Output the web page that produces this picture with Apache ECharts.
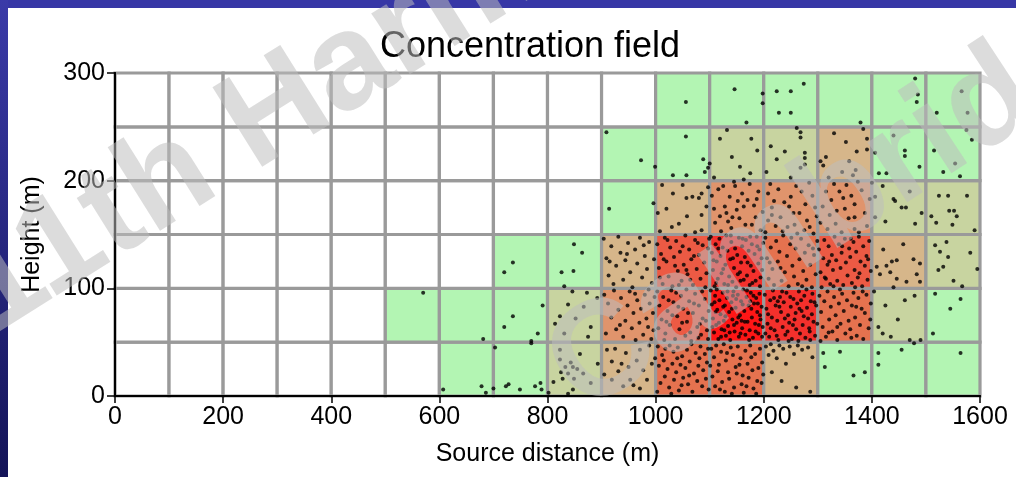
<!DOCTYPE html>
<html><head><meta charset="utf-8">
<script src="https://cdn.jsdelivr.net/npm/echarts@6/dist/echarts.min.js"></script>
<style>html,body{margin:0;padding:0;background:#fff}#c{width:1016px;height:477px}</style>
</head><body><div id="c"></div>
<script>
const titleText = 'Concentration field';
const xName = 'Source distance (m)';
const yName = 'Height (m)';
const watermarkLines = ['11th Harmo', 'Cambridge'];
const xCellStarts = [0,100,200,300,400,500,600,700,800,900,1000,1100,1200,1300,1400,1500];
const yCellStarts = [0,50,100,150,200,250];
// concentration class per cell, bottom row first (0 = empty)
const row0 = [0,0,0,0,0,0,1,1,2,3,5,5,3,1,1,1];
const row1 = [0,0,0,0,0,1,1,1,2,4,6,8,7,5,2,1];
const row2 = [0,0,0,0,0,0,0,1,1,3,6,7,5,6,3,2];
const row3 = [0,0,0,0,0,0,0,0,0,1,3,4,4,4,2,2];
const row4 = [0,0,0,0,0,0,0,0,0,1,1,2,2,3,1,1];
const row5 = [0,0,0,0,0,0,0,0,0,0,1,1,1,1,1,1];
const levelColors = ['#ffffff','#b3f5b3','#c8d4a0','#d6b68a','#e0946c','#e5724f','#ec5a44','#f4302c','#ff1616'];
// particle positions [distance m, height m]
const dots = [
[607,6],[686,3],[678,9],
[700,7],[703,45],[723,9],[728,11],[749,6],[770,49],[777,9],[787,12],[789,6],
[802,3],[811,13],[823,43],[823,34],[825,22],[828,16],[833,27],[838,21],[843,31],[847,27],[849,16],[855,25],[860,39],[866,21],[847,6],[838,2],[880,12],[893,30],
[910,43],[919,32],[937,30],[931,23],[953,15],[950,27],[965,33],[971,43],[977,24],[984,15],[993,30],[999,35],[959,10],[940,9],[919,15],[971,7],[905,20],[925,44],[945,40],[988,47],
[1004,46],[1012,38],[1018,44],[1026,47],[1033,41],[1041,45],[1049,37],[1058,43],[1066,48],[1074,40],[1083,46],[1091,39],[1097,44],
[1006,28],[1015,33],[1022,25],[1031,30],[1038,22],[1046,29],[1055,26],[1063,32],[1071,21],[1079,28],[1088,24],[1095,31],
[1009,12],[1017,18],[1025,8],[1034,15],[1043,5],[1051,17],[1060,11],[1068,4],[1077,14],[1086,9],[1093,16],
[1003,4],[1029,2],[1040,35],[1062,19],[1081,35],[1098,6],[1048,10],
[1103,44],[1108,36],[1112,47],[1117,29],[1121,41],[1126,48],[1130,33],[1134,22],[1139,45],[1143,38],[1148,27],[1152,46],[1157,35],[1161,19],[1166,42],[1170,30],[1175,47],[1179,24],[1184,39],[1188,14],[1193,44],[1197,31],
[1105,18],[1110,9],[1115,23],[1123,13],[1128,4],[1136,16],[1145,8],[1150,21],[1159,11],[1163,3],[1172,17],[1181,7],[1190,26],[1196,12],
[1101,28],[1119,6],[1132,40],[1141,2],[1155,29],[1168,9],[1177,36],[1186,2],[1199,20],
[1204,46],[1209,38],[1213,48],[1218,42],[1224,35],[1229,47],[1236,44],[1241,30],[1248,46],[1256,39],[1263,47],[1271,43],[1282,45],[1290,36],[1215,22],[1233,14],[1260,8],[1286,4],
[1310,40],[1313,27],[1341,41],[1366,19],[1387,22],
[1412,40],[1412,29],[1455,43],[1478,49],[1564,40],
[570,96],[681,53],
[720,64],[736,74],[791,84],[770,51],[782,58],
[814,67],[823,74],[838,85],[852,72],[867,83],[873,96],[880,64],[875,55],[831,58],[892,91],[846,97],
[905,94],[912,86],[918,73],[923,98],[927,62],[931,80],[936,91],[940,55],[944,70],[948,84],[952,97],[956,63],[959,77],[963,52],[966,89],[970,68],[973,81],[977,57],[980,94],[983,72],[986,64],[989,86],[992,53],[995,77],[998,92],[908,58],[934,66],[962,95],[987,99],[996,61],
[1003,97],[1007,84],[1011,71],[1014,92],[1018,58],[1022,79],[1026,66],[1029,98],[1033,87],[1036,53],[1040,74],[1044,62],[1047,93],[1051,81],[1055,56],[1058,69],[1062,88],[1066,51],[1069,77],[1073,95],[1077,64],[1080,84],[1084,57],[1087,72],[1091,90],[1095,61],[1098,79],
[1005,63],[1016,52],[1024,89],[1031,75],[1038,96],[1049,68],[1057,99],[1064,59],[1071,86],[1079,54],[1086,97],[1093,70],[1020,69],[1042,83],[1060,77],[1082,67],[1097,53],
[1102,98],[1104,85],[1106,72],[1108,59],[1110,93],[1112,66],[1114,80],[1116,53],[1118,89],[1120,76],[1122,62],[1124,96],[1126,70],[1128,84],[1130,56],[1132,91],[1134,65],[1136,78],[1138,52],[1140,87],[1142,71],[1144,97],[1146,60],[1148,82],[1150,68],[1152,94],[1154,55],[1156,75],[1158,88],[1160,63],[1162,99],[1164,79],[1166,57],[1168,92],[1170,69],[1172,84],[1174,61],[1176,96],[1178,73],[1180,54],[1182,86],[1184,67],[1186,91],[1188,78],[1190,58],[1192,95],[1194,71],[1196,83],[1198,64],
[1105,64],[1109,87],[1113,99],[1117,68],[1121,55],[1125,83],[1129,74],[1133,97],[1137,59],[1141,81],[1145,66],[1149,90],[1153,73],[1157,58],[1161,85],[1165,69],[1169,98],[1173,52],[1177,81],[1181,93],[1185,60],[1189,86],[1193,75],[1197,55],[1111,78],[1127,61],[1143,93],[1159,70],[1175,88],[1191,66],
[1202,94],[1205,81],[1207,67],[1210,55],[1212,89],[1215,73],[1217,98],[1220,61],[1222,84],[1225,70],[1227,52],[1230,92],[1232,78],[1235,64],[1237,87],[1240,57],[1242,96],[1245,75],[1247,68],[1250,83],[1252,53],[1255,90],[1257,71],[1260,62],[1262,86],[1265,97],[1267,58],[1270,79],[1272,66],[1275,93],[1277,54],[1280,82],[1282,72],[1285,60],[1287,88],[1290,95],[1292,69],[1295,56],[1297,84],
[1203,58],[1208,76],[1213,63],[1219,91],[1224,56],[1229,83],[1234,97],[1239,72],[1244,60],[1249,92],[1254,66],[1259,77],[1264,51],[1269,89],[1274,74],[1279,99],[1284,63],[1289,76],[1294,87],[1299,67],[1226,88],[1246,51],[1266,81],[1286,52],
[1303,93],[1306,78],[1309,64],[1312,88],[1315,55],[1318,97],[1321,71],[1324,83],[1327,60],[1330,92],[1333,75],[1336,52],[1339,86],[1342,67],[1345,95],[1348,79],[1351,58],[1354,89],[1357,70],[1360,62],[1363,84],[1366,96],[1369,73],[1372,56],[1375,91],[1378,66],[1381,81],[1384,53],[1387,77],[1390,94],[1394,63],[1398,86],[1320,59],[1341,99],[1362,54],[1383,97],[1305,51],[1336,64],[1371,83],[1397,71],
[1412,64],[1425,84],[1461,89],[1479,93],[1448,71],[1435,55],[1490,52],[1470,52],[1404,97],[1420,58],
[1517,95],[1545,81],[1564,90],[1513,58],
[720,115],[736,124],
[826,115],[848,116],[864,133],[849,141],[831,102],
[904,146],[909,128],[913,112],[918,139],[922,104],[927,121],[931,148],[935,133],[940,108],[944,126],[949,142],[953,115],[957,101],[962,136],[966,123],[971,147],[975,110],[980,130],[984,118],[988,143],[993,105],[997,127],[915,125],[947,132],[978,140],
[1003,141],[1006,119],[1010,132],[1013,104],[1017,147],[1020,125],[1024,111],[1027,138],[1031,102],[1034,129],[1038,144],[1041,116],[1045,134],[1048,107],[1052,122],[1055,149],[1059,113],[1062,136],[1066,127],[1069,103],[1073,145],[1076,118],[1080,131],[1083,109],[1087,140],[1090,124],[1094,114],[1097,137],[1008,110],[1022,145],[1036,121],[1050,139],[1064,108],[1078,142],[1092,101],[1015,127],[1043,103],[1071,130],[1099,146],[1057,117],
[1102,148],[1104,133],[1106,117],[1109,102],[1111,141],[1113,125],[1115,109],[1118,146],[1120,130],[1122,114],[1124,138],[1127,104],[1129,122],[1131,149],[1133,135],[1136,111],[1138,127],[1140,143],[1142,106],[1145,119],[1147,137],[1149,101],[1151,131],[1154,147],[1156,115],[1158,124],[1160,139],[1163,108],[1165,129],[1167,145],[1169,112],[1172,135],[1174,103],[1176,121],[1178,141],[1181,116],[1183,132],[1185,107],[1187,148],[1190,123],[1192,136],[1194,110],[1196,128],[1199,142],
[1107,126],[1116,137],[1125,118],[1134,103],[1143,128],[1152,113],[1161,146],[1170,124],[1179,105],[1188,139],[1197,117],[1112,105],[1139,149],[1157,107],[1175,148],[1193,102],
[1203,147],[1206,128],[1209,109],[1213,138],[1216,118],[1219,103],[1223,144],[1226,125],[1229,134],[1233,107],[1236,149],[1239,115],[1243,130],[1246,102],[1249,141],[1253,121],[1256,111],[1259,137],[1263,104],[1266,127],[1269,146],[1273,116],[1276,133],[1279,108],[1283,140],[1286,122],[1289,101],[1293,131],[1296,113],[1299,144],[1211,124],[1231,119],[1251,147],[1271,102],[1291,137],
[1302,136],[1305,115],[1307,101],[1310,128],[1312,145],[1315,109],[1318,122],[1320,139],[1323,104],[1326,131],[1328,117],[1331,148],[1334,126],[1336,107],[1339,141],[1342,119],[1344,133],[1347,103],[1350,146],[1352,124],[1355,112],[1358,137],[1360,129],[1363,105],[1366,143],[1368,117],[1371,134],[1374,110],[1376,148],[1379,125],[1382,102],[1384,139],[1387,121],[1390,130],[1392,108],[1395,144],[1398,116],[1313,110],[1329,102],[1345,139],[1361,146],[1377,114],[1393,127],[1321,125],[1369,101],
[1409,120],[1415,113],[1427,121],[1434,115],[1437,125],[1446,126],[1458,141],[1446,109],[1464,106],[1489,123],[1483,113],[1489,106],[1421,136],[1440,101],[1477,127],
[1517,140],[1526,134],[1538,143],[1541,129],[1523,117],[1532,120],[1582,133],[1551,107],[1567,102],[1595,118],
[914,174],[996,179],
[1004,170],[1020,174],[1032,188],[1057,184],[1068,185],[1080,184],[1085,188],[1058,167],[1085,168],[1085,154],[1073,152],[1012,196],[1043,160],[1030,157],[1094,176],[1050,196],[1008,153],[1097,194],
[1125,195],[1147,195],[1128,176],[1131,170],[1142,166],[1155,165],[1150,173],[1170,182],[1182,177],[1185,166],[1178,159],[1166,159],[1104,186],[1110,161],[1116,192],[1121,153],[1137,185],[1140,156],[1160,188],[1163,176],[1174,197],[1190,190],[1194,154],[1198,171],[1108,174],[1134,162],[1152,181],[1187,183],[1119,167],[1145,199],
[1208,188],[1215,175],[1215,168],[1208,163],[1222,158],[1238,180],[1250,185],[1260,195],[1255,170],[1266,170],[1280,163],[1285,157],[1275,154],[1290,186],[1295,175],[1203,152],[1212,197],[1227,192],[1231,166],[1244,157],[1247,176],[1262,151],[1270,190],[1284,198],[1298,167],[1219,181],[1235,153],[1257,159],[1277,178],[1292,151],
[1315,190],[1325,182],[1335,172],[1340,190],[1350,174],[1357,165],[1368,178],[1368,155],[1376,152],[1368,166],[1305,161],[1309,176],[1318,155],[1330,197],[1333,160],[1344,152],[1353,196],[1362,186],[1381,191],[1387,170],[1391,158],[1396,183],[1322,168],[1347,184],[1374,199],
[1400,198],[1420,195],[1406,185],[1440,183],[1443,181],[1455,175],[1463,175],[1406,166],[1425,162],[1480,160],[1470,190],[1492,170],
[1510,167],[1519,161],[1524,186],[1541,186],[1543,172],[1552,172],[1549,159],[1557,167],[1576,186],[1590,154],
[909,245],[973,219],
[1056,241],[1032,205],[1057,205],[1088,220],[1091,208],[999,213],[1097,212],
[1119,239],[1141,222],[1177,239],[1175,207],[1100,216],[1108,203],[1132,247],[1156,213],[1188,228],[1163,201],
[1213,232],[1239,227],[1224,220],[1268,245],[1268,240],[1261,249],[1276,226],[1276,221],[1276,215],[1268,212],[1205,208],[1250,203],
[1310,214],[1315,222],[1305,218],[1352,236],[1372,227],[1345,208],[1365,205],[1370,210],[1391,239],[1391,229],[1330,244],[1320,203],[1384,248],[1358,218],
[1406,226],[1413,207],[1427,207],[1461,228],[1461,223],[1440,242],[1488,213],
[1515,228],[1532,208],[1554,216],[1563,204],[1575,247],[1585,238],
[1056,273],
[1146,285],[1198,281],[1198,272],[1168,254],
[1224,283],[1250,283],[1274,290],[1228,263],[1250,263],
[1379,254],
[1480,295],[1485,280],[1483,273],
[1520,263],[1566,283],[1577,263]
];

const cellRows = [row0,row1,row2,row3,row4,row5];
const CELL_W = 100, CELL_H = 50;
const cellData = [];
cellRows.forEach((row, r) => row.forEach((lv, c) => cellData.push([xCellStarts[c], yCellStarts[r], lv])));

const FONT = '"Liberation Sans", Arial, Helvetica, sans-serif';
const chart = echarts.init(document.getElementById('c'));
const wmStyle = { font: 'bold 136px "Liberation Sans", Arial, sans-serif', fill: 'rgba(189,189,189,0.53)', textAlign: 'left', textVerticalAlign: 'bottom', align: 'left', verticalAlign: 'bottom' };
const plainNum = v => String(v);
chart.setOption({
  animation: false,
  backgroundColor: '#ffffff',
  title: {
    text: titleText, left: 525, top: 24, textAlign: 'center',
    textStyle: { fontFamily: FONT, fontSize: 36, fontWeight: 'normal', color: '#000' }
  },
  grid: { left: 115, top: 73, width: 865, height: 323, containLabel: false },
  xAxis: [{
    type: 'value', min: 0, max: 1600, interval: 200, position: 'bottom', z: 10,
    name: xName, nameLocation: 'middle', nameGap: 46,
    nameTextStyle: { fontFamily: FONT, fontSize: 25, color: '#000' },
    axisLine: { show: true, lineStyle: { color: '#000', width: 2 } },
    axisTick: { show: true, length: 7, lineStyle: { color: '#000', width: 1.5 } },
    axisLabel: { fontFamily: FONT, fontSize: 25, color: '#000', margin: 9, formatter: plainNum },
    splitLine: { show: false }
  }, {
    type: 'value', min: 0, max: 1600, interval: 200, position: 'top', z: 10,
    axisLine: { show: true, lineStyle: { color: '#000', width: 2 } },
    axisTick: { show: false }, axisLabel: { show: false }, splitLine: { show: false }
  }],
  yAxis: [{
    type: 'value', min: 0, max: 300, interval: 100, position: 'left', z: 10,
    name: yName, nameLocation: 'middle', nameGap: 70,
    nameTextStyle: { fontFamily: FONT, fontSize: 25, color: '#000' },
    axisLine: { show: true, lineStyle: { color: '#000', width: 2 } },
    axisTick: { show: true, length: 8, lineStyle: { color: '#000', width: 1.5 } },
    axisLabel: { fontFamily: FONT, fontSize: 25, color: '#000', margin: 10, formatter: plainNum },
    splitLine: { show: false }
  }, {
    type: 'value', min: 0, max: 300, interval: 100, position: 'right', z: 10,
    axisLine: { show: true, lineStyle: { color: '#000', width: 2 } },
    axisTick: { show: false }, axisLabel: { show: false }, splitLine: { show: false }
  }],
  series: [{
    type: 'custom', xAxisIndex: 0, yAxisIndex: 0, z: 2,
    data: cellData,
    renderItem: function (params, api) {
      const x = api.value(0), y = api.value(1), lv = api.value(2);
      const p0 = api.coord([x, y + CELL_H]);
      const p1 = api.coord([x + CELL_W, y]);
      return { type: 'rect', shape: { x: p0[0], y: p0[1], width: p1[0] - p0[0], height: p1[1] - p0[1] },
        style: { fill: levelColors[lv], stroke: '#9a9a9a', lineWidth: 3.2 } };
    }
  }, {
    type: 'scatter', xAxisIndex: 0, yAxisIndex: 0, z: 3,
    data: dots, symbol: 'circle', symbolSize: 4,
    itemStyle: { color: '#000' }
  }],
  graphic: [
    { type: 'rect', z: 50, shape: { x: 0, y: 0, width: 1016, height: 8 }, style: { fill: '#3737a6' } },
    { type: 'rect', z: 50, shape: { x: 0, y: 0, width: 8, height: 477 },
      style: { fill: new echarts.graphic.LinearGradient(0, 0, 0, 1, [{ offset: 0, color: '#3a3aa8' }, { offset: 1, color: '#141458' }]) } },
    { type: 'text', z: 100, x: 8, y: 362, rotation: 0.56, style: Object.assign({ text: watermarkLines[0] }, wmStyle) },
    { type: 'text', z: 100, x: 600, y: 440, rotation: 0.58, style: Object.assign({ text: watermarkLines[1] }, wmStyle) }
  ]
});
</script></body></html>
